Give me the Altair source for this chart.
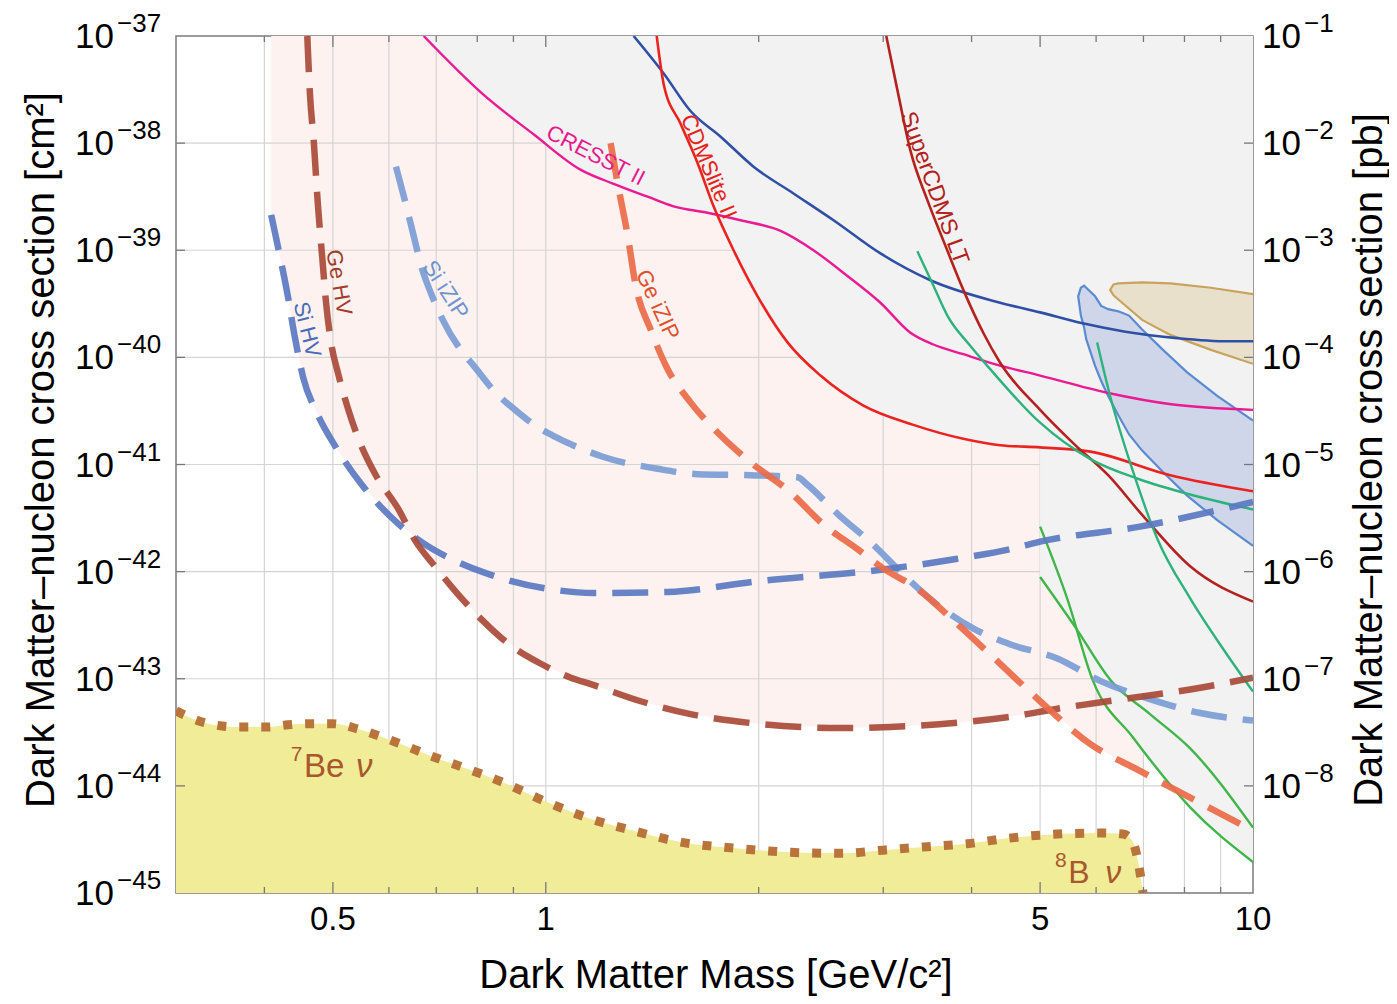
import altair as alt
import numpy as np
import pandas as pd

W, H = 1077, 857
FONT = "Liberation Sans"

# ---- curves: dark-matter mass [GeV/c^2] and log10(cross section / cm^2) ----
si_hv_m = [0.409, 0.420, 0.431, 0.442, 0.454, 0.474, 0.505, 0.548, 0.604, 0.666, 0.734, 0.836, 1.006, 1.169, 1.487, 1.993, 3.0, 3.82, 4.54, 5.0, 6.92, 10.0]
si_hv_s = [-38.67, -39.03, -39.40, -39.82, -40.19, -40.51, -40.84, -41.18, -41.49, -41.72, -41.88, -42.03, -42.16, -42.20, -42.19, -42.09, -41.98, -41.88, -41.79, -41.72, -41.58, -41.35]

ge_hv_m = [0.460, 0.464, 0.470, 0.476, 0.483, 0.489, 0.497, 0.509, 0.527, 0.548, 0.575, 0.618, 0.655, 0.695, 0.751, 0.815, 0.884, 0.984, 1.085, 1.158, 1.362, 1.602, 1.993, 2.61, 3.07, 3.82, 4.49, 5.29, 6.55, 8.15, 10.0]
ge_hv_s = [-37.0, -37.54, -38.00, -38.56, -39.07, -39.49, -39.86, -40.16, -40.51, -40.82, -41.10, -41.41, -41.72, -41.94, -42.21, -42.46, -42.67, -42.86, -42.99, -43.05, -43.21, -43.33, -43.42, -43.46, -43.45, -43.41, -43.36, -43.28, -43.19, -43.10, -42.99]

si_izip_m = [0.614, 0.634, 0.649, 0.666, 0.688, 0.715, 0.766, 0.789, 0.858, 0.886, 0.984, 1.023, 1.150, 1.207, 1.439, 1.640, 1.948, 2.27, 2.345, 2.585, 2.906, 3.172, 3.578, 4.02, 4.54, 5.29, 6.08, 7.15, 8.42, 10.0]
si_izip_s = [-38.22, -38.57, -38.84, -39.14, -39.40, -39.65, -39.97, -40.07, -40.36, -40.44, -40.67, -40.73, -40.88, -40.93, -41.04, -41.09, -41.10, -41.12, -41.19, -41.46, -41.75, -42.00, -42.31, -42.53, -42.68, -42.81, -43.02, -43.19, -43.32, -43.39]

ge_izip_m = [1.235, 1.264, 1.306, 1.340, 1.407, 1.487, 1.602, 1.767, 1.948, 2.218, 2.47, 2.759, 3.0, 3.353, 3.82, 4.39, 5.0, 5.89, 6.92, 8.15, 10.0]
ge_izip_s = [-38.0, -38.38, -38.87, -39.33, -39.74, -40.11, -40.42, -40.73, -40.98, -41.26, -41.56, -41.79, -41.97, -42.16, -42.49, -42.86, -43.21, -43.61, -43.86, -44.11, -44.42]

cresst_m = [0.672, 0.817, 0.962, 1.121, 1.247, 1.393, 1.516, 1.693, 1.885, 2.148, 2.39, 2.67, 2.973, 3.278, 3.532, 3.894, 4.35, 5.0, 6.22, 7.71, 10.0]
cresst_s = [-37.0, -37.55, -37.92, -38.25, -38.38, -38.50, -38.59, -38.65, -38.72, -38.82, -39.0, -39.24, -39.49, -39.77, -39.88, -39.97, -40.07, -40.17, -40.33, -40.44, -40.49]

cdmslite_m = [1.435, 1.468, 1.551, 1.640, 1.727, 1.843, 1.993, 2.197, 2.446, 2.813, 3.31, 3.894, 4.39, 5.0, 5.89, 7.64, 10.0]
cdmslite_s = [-37.0, -37.45, -37.82, -38.19, -38.59, -39.0, -39.43, -39.86, -40.17, -40.45, -40.63, -40.76, -40.82, -40.84, -40.88, -41.10, -41.25]

blue_m = [1.331, 1.468, 1.602, 1.767, 1.967, 2.24, 2.552, 2.973, 3.498, 4.39, 5.0, 5.72, 6.60, 7.81, 9.22, 10.0]
blue_s = [-37.0, -37.35, -37.70, -37.94, -38.22, -38.47, -38.72, -39.03, -39.28, -39.49, -39.58, -39.68, -39.76, -39.82, -39.85, -39.85]

scdms_lt_m = [3.03, 3.143, 3.278, 3.463, 3.649, 3.894, 4.155, 4.39, 5.0, 5.587, 6.24, 6.97, 8.15, 10.0]
scdms_lt_s = [-37.0, -37.51, -38.07, -38.53, -38.91, -39.37, -39.77, -40.05, -40.49, -40.81, -41.10, -41.47, -41.95, -42.28]

teal1_m = [3.353, 3.532, 3.697, 3.98, 4.25, 5.0, 5.89, 6.92, 8.15, 10.0]
teal1_s = [-39.01, -39.33, -39.61, -39.89, -40.11, -40.61, -40.95, -41.14, -41.28, -41.42]

teal2_m = [6.02, 6.28, 6.77, 7.32, 8.15, 9.07, 10.0]
teal2_s = [-39.86, -40.36, -41.07, -41.69, -42.25, -42.72, -43.12]

greenA_m = [5.0, 5.46, 5.94, 6.77, 8.15, 10.0]
greenA_s = [-41.58, -42.25, -43.02, -43.55, -44.20, -44.71]

greenB_m = [5.0, 5.61, 6.30, 7.15, 8.15, 10.0]
greenB_s = [-42.05, -42.52, -43.02, -43.33, -43.65, -44.39]

nu_m = [0.30, 0.329, 0.367, 0.405, 0.432, 0.466, 0.50, 0.543, 0.579, 0.624, 0.688, 0.766, 0.872, 0.994, 1.147, 1.331, 1.566, 1.843, 2.218, 2.61, 3.0, 3.42, 3.945, 4.49, 5.0, 6.08, 6.55, 6.75, 6.88, 6.99]
nu_s = [-43.30, -43.41, -43.45, -43.45, -43.43, -43.42, -43.42, -43.47, -43.53, -43.61, -43.72, -43.83, -43.97, -44.14, -44.30, -44.42, -44.53, -44.58, -44.62, -44.63, -44.60, -44.57, -44.54, -44.49, -44.46, -44.44, -44.45, -44.51, -44.71, -45.0]

blob_m = [5.66, 5.71, 5.77, 5.81, 5.98, 6.10, 6.24, 6.45, 6.68, 6.97, 7.46, 8.07, 8.90, 10.0]
blob_hi = [-39.43, -39.35, -39.33, -39.35, -39.43, -39.52, -39.55, -39.57, -39.61, -39.74, -39.93, -40.14, -40.36, -40.59]
blob_lo = [-39.43, -39.61, -39.72, -39.83, -40.08, -40.22, -40.36, -40.54, -40.72, -40.87, -41.07, -41.29, -41.52, -41.76]

tan_m = [6.28, 6.35, 6.45, 6.97, 7.64, 8.72, 10.0]
tan_hi = [-39.37, -39.32, -39.31, -39.30, -39.31, -39.35, -39.41]
tan_lo = [-39.37, -39.42, -39.46, -39.65, -39.79, -39.93, -40.06]

# ---- axes / grid ----
grid_masses = [0.4, 0.5, 0.6, 0.7, 0.8, 0.9, 1, 2, 3, 4, 5, 6, 7, 8, 9]
major_masses = [0.5, 1, 5]
minor_masses = [0.4, 0.6, 0.7, 0.8, 0.9, 2, 3, 4, 6, 7, 8, 9]
grid_decades = [-38, -39, -40, -41, -42, -43, -44]
x_tick_values = [0.5, 1, 5, 10]
x_tick_labels = ["0.5", "1", "5", "10"]
left_decades = [-37, -38, -39, -40, -41, -42, -43, -44, -45]
right_decades = [-37, -38, -39, -40, -41, -42, -43, -44]
right_exponents = [-1, -2, -3, -4, -5, -6, -7, -8]

# ---- curve labels ----
lab_text = ["CRESST II", "CDMSlite II", "SuperCDMS LT", "Ge HV", "Si HV", "Si iZIP", "Ge iZIP"]
lab_m = [1.176, 1.699, 3.543, 0.510, 0.4597, 0.722, 1.439]
lab_s = [-38.115, -38.22, -38.42, -39.30, -39.74, -39.37, -39.51]
lab_angle = [27, 67, 70, 80, 76, 57, 65]
lab_color = ["#e8198f", "#e5231b", "#b4201c", "#a33a2a", "#4a6cb8", "#6f92d0", "#e0502f"]
lab_size = [22, 22, 23, 22, 22, 22, 22]

nu_lab_text = ["7", "Be", "8", "B"]
nu_lab_m = [0.436, 0.455, 5.25, 5.48]
nu_lab_s = [-43.77, -43.92, -44.76, -44.91]
nu_lab_fs = [21, 33, 21, 32]
nu_sym_m = [0.539, 6.18]
nu_sym_s = [-43.92, -44.91]
nu_sym_fs = [33, 32]

# ---------------------------------------------------------------------------
xs = alt.Scale(type="log", domain=[0.3, 10], nice=False)
ys = alt.Scale(type="linear", domain=[-45, -37], nice=False, zero=False)
X = alt.X("m:Q", scale=xs, axis=None)
Y = alt.Y("s:Q", scale=ys, axis=None)


def cdf(m, s):
    return pd.DataFrame({"m": m, "s": s})


def on_grid(m, s, g):
    lm = np.log10(np.asarray(m, float))
    lg = np.log10(g)
    v = np.interp(lg, lm, np.asarray(s, float))
    v[(lg < lm[0] - 1e-9) | (lg > lm[-1] + 1e-9)] = np.nan
    return v


def line(m, s, color, width, dash=None, opacity=1.0, interp="monotone"):
    kw = dict(color=color, strokeWidth=width, clip=True, opacity=opacity, interpolate=interp)
    if dash:
        kw["strokeDash"] = dash
    return alt.Chart(cdf(m, s)).mark_line(**kw).encode(x=X, y=Y)


# projected-sensitivity (pink) region: above the lower envelope of the dashed curves
g1 = np.geomspace(si_hv_m[0], 7.0, 500)
env1 = np.nanmin(np.vstack([on_grid(si_hv_m, si_hv_s, g1), on_grid(ge_hv_m, ge_hv_s, g1),
                            on_grid(si_izip_m, si_izip_s, g1), on_grid(ge_izip_m, ge_izip_s, g1)]), axis=0)
pink_df = pd.DataFrame({"m": g1, "s": env1, "top": -37.0})

# excluded (gray) region: above the lower envelope of existing limits
g2 = np.unique(np.concatenate([np.geomspace(cresst_m[0], 10.0, 600), [4.9999, 5.0]]))
curves2 = [(cresst_m, cresst_s), (cdmslite_m, cdmslite_s), (blue_m, blue_s), (scdms_lt_m, scdms_lt_s),
           (teal1_m, teal1_s), (teal2_m, teal2_s), (greenA_m, greenA_s), (greenB_m, greenB_s)]
env2 = np.nanmin(np.vstack([on_grid(a, b, g2) for a, b in curves2]), axis=0)
gray_df = pd.DataFrame({"m": g2, "s": env2, "top": -37.0})

nu_df = pd.DataFrame({"m": nu_m, "s": nu_s, "bot": -45.0})

layers = []
layers.append(alt.Chart(pink_df).mark_area(color="#fdf2ef", interpolate="linear", clip=True)
              .encode(x=X, y=Y, y2=alt.Y2("top:Q")))
layers.append(alt.Chart(pd.DataFrame({"m": grid_masses})).mark_rule(color="#d4d4d4", strokeWidth=1.2)
              .encode(x=X, y=alt.value(0), y2=alt.value(H)))
layers.append(alt.Chart(pd.DataFrame({"s": grid_decades})).mark_rule(color="#d4d4d4", strokeWidth=1.2)
              .encode(y=Y, x=alt.value(0), x2=alt.value(W)))
layers.append(alt.Chart(gray_df).mark_area(color="#f2f2f2", interpolate="linear", clip=True)
              .encode(x=X, y=Y, y2=alt.Y2("top:Q")))
layers.append(alt.Chart(nu_df).mark_area(color="#f1ec98", interpolate="monotone", clip=True)
              .encode(x=X, y=Y, y2=alt.Y2("bot:Q")))

# closed contour regions
for mm, hi, lo, fill, edge in [(tan_m, tan_hi, tan_lo, "#e9e0cc", "#c9a35e"),
                               (blob_m, blob_hi, blob_lo, "#cfd6ea", "#5a8ad0")]:
    adf = pd.DataFrame({"m": mm, "s": hi, "lo": lo})
    layers.append(alt.Chart(adf).mark_area(color=fill, interpolate="linear", clip=True)
                  .encode(x=X, y=Y, y2=alt.Y2("lo:Q")))
    om = list(mm[::-1]) + list(mm[1:])
    os_ = list(lo[::-1]) + list(hi[1:])
    odf = pd.DataFrame({"m": om, "s": os_, "o": list(range(len(om)))})
    layers.append(alt.Chart(odf).mark_line(color=edge, strokeWidth=2.2, interpolate="linear", clip=True)
                  .encode(x=X, y=Y, order=alt.Order("o:Q")))

# existing limits (solid)
layers += [
    line(cresst_m, cresst_s, "#ea1a93", 2.4),
    line(blue_m, blue_s, "#2f4fa6", 2.6),
    line(cdmslite_m, cdmslite_s, "#ea2320", 2.6),
    line(scdms_lt_m, scdms_lt_s, "#b5211e", 2.6),
    line(teal1_m, teal1_s, "#2db27c", 2.4),
    line(teal2_m, teal2_s, "#2db27c", 2.4),
    line(greenA_m, greenA_s, "#40b548", 2.4),
    line(greenB_m, greenB_s, "#40b548", 2.4),
]
# projections (dashed)
DASH = [36, 16]
layers += [
    line(si_izip_m, si_izip_s, "#7b9cd4", 6.5, DASH, 0.92),
    line(si_hv_m, si_hv_s, "#5b79c1", 6.5, DASH, 0.92),
    line(ge_hv_m, ge_hv_s, "#a94a38", 6.5, DASH, 0.92),
    line(ge_izip_m, ge_izip_s, "#ea6a48", 6.5, DASH, 0.92),
]
# neutrino floor (dotted)
layers.append(alt.Chart(nu_df).mark_line(color="#b9743c", strokeWidth=9, strokeDash=[9, 13],
                                         interpolate="monotone", clip=True).encode(x=X, y=Y))

# inward ticks
TC = "#777777"
for vals, ln in [(major_masses, 11), (minor_masses, 6)]:
    tdf = pd.DataFrame({"m": vals})
    layers.append(alt.Chart(tdf).mark_rule(color=TC, strokeWidth=1.3)
                  .encode(x=X, y=alt.value(H), y2=alt.value(H - ln)))
    layers.append(alt.Chart(tdf).mark_rule(color=TC, strokeWidth=1.3)
                  .encode(x=X, y=alt.value(0), y2=alt.value(ln)))
ydf = pd.DataFrame({"s": grid_decades})
layers.append(alt.Chart(ydf).mark_rule(color=TC, strokeWidth=1.3).encode(y=Y, x=alt.value(0), x2=alt.value(9)))
layers.append(alt.Chart(ydf).mark_rule(color=TC, strokeWidth=1.3).encode(y=Y, x=alt.value(W - 9), x2=alt.value(W)))

# curve labels
ldf = pd.DataFrame({"t": lab_text, "m": lab_m, "s": lab_s, "a": lab_angle, "c": lab_color, "fs": lab_size})
layers.append(alt.Chart(ldf).mark_text(font=FONT, align="center", baseline="middle")
              .encode(x=X, y=Y, text="t:N", angle=alt.Angle("a:Q", scale=None),
                      color=alt.Color("c:N", scale=None), size=alt.Size("fs:Q", scale=None)))
ndf = pd.DataFrame({"t": nu_lab_text, "m": nu_lab_m, "s": nu_lab_s, "fs": nu_lab_fs})
layers.append(alt.Chart(ndf).mark_text(font=FONT, align="left", baseline="alphabetic", color="#a8582c")
              .encode(x=X, y=Y, text="t:N", size=alt.Size("fs:Q", scale=None)))
sdf = pd.DataFrame({"t": ["ν", "ν"], "m": nu_sym_m, "s": nu_sym_s, "fs": nu_sym_fs})
layers.append(alt.Chart(sdf).mark_text(font=FONT, align="left", baseline="alphabetic", color="#a8582c",
                                       fontStyle="italic")
              .encode(x=X, y=Y, text="t:N", size=alt.Size("fs:Q", scale=None)))

# axis tick labels
xl = pd.DataFrame({"m": x_tick_values, "t": x_tick_labels})
layers.append(alt.Chart(xl).mark_text(font=FONT, fontSize=33, align="center", baseline="alphabetic", color="black")
              .encode(x=X, y=alt.value(H + 37), text="t:N"))
ll = pd.DataFrame({"s": left_decades, "t": ["10"] * len(left_decades),
                   "e": ["\u2212" + str(abs(d)) for d in left_decades]})
layers.append(alt.Chart(ll).mark_text(font=FONT, fontSize=35, align="right", baseline="alphabetic", dy=12,
                                      color="black").encode(y=Y, x=alt.value(-62), text="t:N"))
layers.append(alt.Chart(ll).mark_text(font=FONT, fontSize=26, align="left", baseline="alphabetic", dy=-4,
                                      color="black").encode(y=Y, x=alt.value(-59), text="e:N"))
rl = pd.DataFrame({"s": right_decades, "t": ["10"] * len(right_decades),
                   "e": ["\u2212" + str(abs(d)) for d in right_exponents]})
layers.append(alt.Chart(rl).mark_text(font=FONT, fontSize=35, align="left", baseline="alphabetic", dy=12,
                                      color="black").encode(y=Y, x=alt.value(W + 9), text="t:N"))
layers.append(alt.Chart(rl).mark_text(font=FONT, fontSize=26, align="left", baseline="alphabetic", dy=-4,
                                      color="black").encode(y=Y, x=alt.value(W + 51), text="e:N"))

# axis titles
def title(text, x, y, angle, baseline):
    return (alt.Chart(pd.DataFrame({"t": [text]}))
            .mark_text(font=FONT, fontSize=40, align="center", baseline=baseline, angle=angle, color="black")
            .encode(x=alt.value(x), y=alt.value(y), text="t:N"))

layers.append(title("Dark Matter Mass [GeV/c\u00b2]", 540, H + 95, 0, "alphabetic"))
layers.append(title("Dark Matter\u2013nucleon cross section [cm\u00b2]", -134, 414, 270, "middle"))
layers.append(title("Dark Matter\u2013nucleon cross section [pb]", W + 117, 424, 270, "middle"))

chart = (alt.layer(*layers)
         .properties(width=W, height=H,
                     autosize=alt.AutoSizeParams(type="none"),
                     padding={"left": 168, "top": 28, "right": 136, "bottom": 103},
                     background="white")
         .configure_view(stroke="#7a7a7a", strokeWidth=1.5))

chart.save("out.html", embed_options={"renderer": "svg", "actions": False})
